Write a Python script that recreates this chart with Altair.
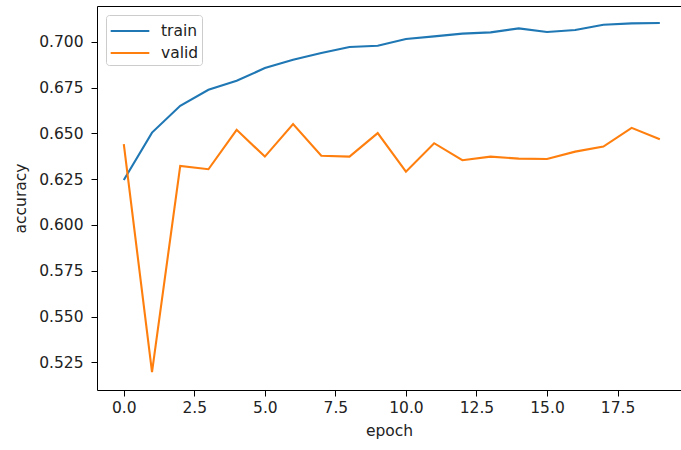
import altair as alt
import pandas as pd

epochs = list(range(20))
train_acc = [0.6245, 0.6504, 0.6650, 0.6738, 0.6787, 0.6856, 0.6902, 0.6938, 0.6971, 0.6978,
             0.7015, 0.7029, 0.7044, 0.7051, 0.7073, 0.7053, 0.7064, 0.7093, 0.7100, 0.7102]
valid_acc = [0.6441, 0.5197, 0.6322, 0.6304, 0.6519, 0.6373, 0.6550, 0.6378, 0.6373, 0.6501,
             0.6291, 0.6446, 0.6353, 0.6373, 0.6362, 0.6360, 0.6400, 0.6428, 0.6530, 0.6468]
series_names = ["train", "valid"]
series_colors = ["#1f77b4", "#ff7f0e"]
x_ticks = [0.0, 2.5, 5.0, 7.5, 10.0, 12.5, 15.0, 17.5]
y_ticks = [0.525, 0.550, 0.575, 0.600, 0.625, 0.650, 0.675, 0.700]

df = pd.DataFrame({
    "epoch": epochs * 2,
    "accuracy": train_acc + valid_acc,
    "series": ["train"] * len(epochs) + ["valid"] * len(epochs),
})

FONT = "DejaVu Sans"
FS = 15.5
TXT = "#222222"

xscale = alt.Scale(domain=[-0.95, 19.75], nice=False, zero=False)
yscale = alt.Scale(domain=[0.5099, 0.7195], nice=False, zero=False)
cscale = alt.Scale(domain=series_names, range=series_colors)

legend = alt.Legend(
    title=None, orient="none", legendX=9, legendY=9,
    symbolType="M-1.68,0H1.68", symbolSize=529, symbolStrokeWidth=2.1,
    symbolOffset=8, labelOffset=18, padding=3, rowPadding=0,
    labelFont=FONT, labelFontSize=FS, labelColor=TXT,
    fillColor="white", strokeColor="#cccccc", cornerRadius=3,
)

base = alt.Chart(df)

train_layer = base.transform_filter(alt.datum.series == "train").mark_line(strokeWidth=2.1).encode(
    x=alt.X("epoch:Q", scale=xscale,
            axis=alt.Axis(values=x_ticks, format=".1f", title="epoch", grid=False,
                          tickSize=6, labelPadding=4, titlePadding=8)),
    y=alt.Y("accuracy:Q", scale=yscale,
            axis=alt.Axis(values=y_ticks, format=".3f", title="accuracy", grid=False,
                          tickSize=6, labelPadding=8, titlePadding=10)),
    color=alt.Color("series:N", scale=cscale, legend=legend),
)

valid_layer = base.transform_filter(alt.datum.series == "valid").mark_line(strokeWidth=2.1).encode(
    x=alt.X("epoch:Q", scale=xscale,
            axis=alt.Axis(orient="top", labels=False, ticks=False, domain=True, grid=False, title=None)),
    y=alt.Y("accuracy:Q", scale=yscale),
    color=alt.Color("series:N", scale=cscale, legend=legend),
)

chart = alt.layer(train_layer, valid_layer).resolve_axis(x="independent").properties(
    width=584, height=384,
    autosize=alt.AutoSizeParams(type="none"),
    padding={"left": 97, "top": 6, "right": 0, "bottom": 60},
    background="white",
).configure_view(stroke="transparent").configure_axis(
    labelFont=FONT, labelFontSize=FS, labelColor=TXT,
    titleFont=FONT, titleFontSize=FS, titleColor=TXT, titleFontWeight="normal",
    domainColor="#000000", domainWidth=1, tickColor="#000000", tickWidth=1,
)

chart.save("out.html", embed_options={"renderer": "svg", "actions": False})
